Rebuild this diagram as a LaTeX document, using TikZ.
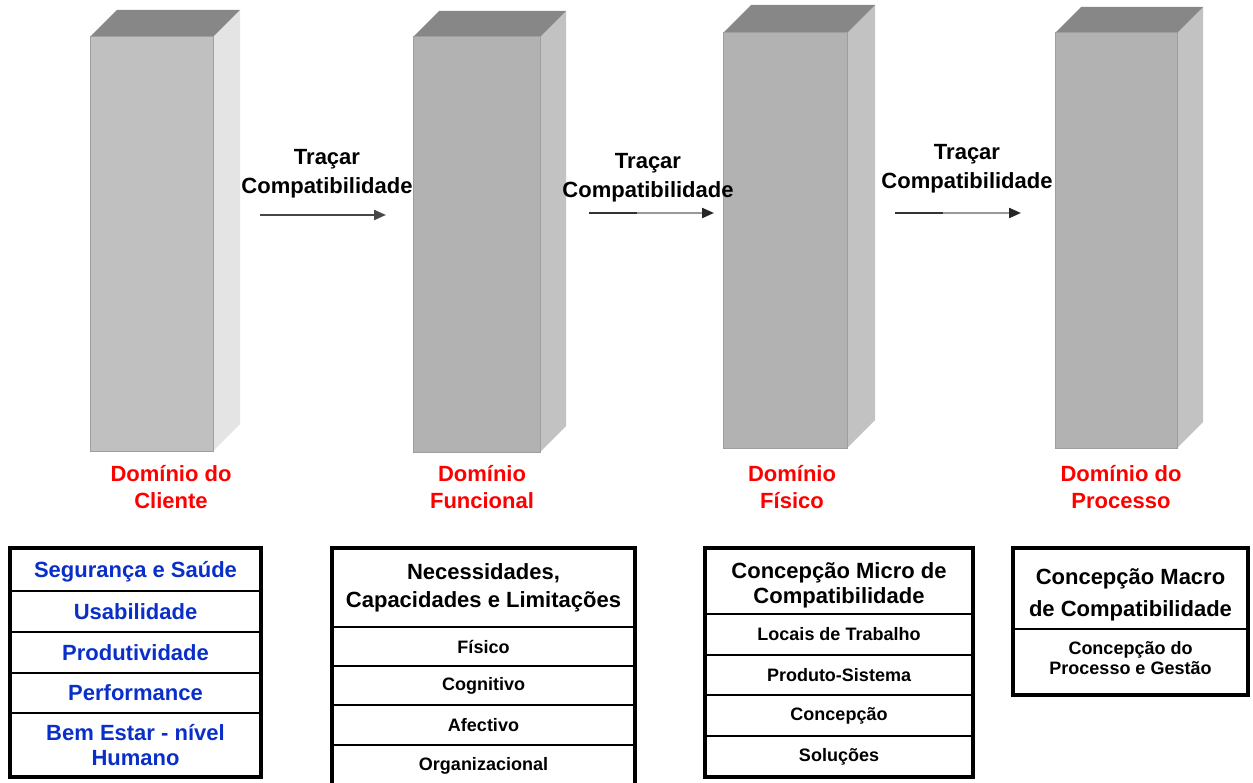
\documentclass[tikz,border=0pt]{standalone}
\usepackage{fontspec}
\setmainfont{Liberation Sans}
\usetikzlibrary{arrows.meta,calc}
\definecolor{faceA}{HTML}{C0C0C0}
\definecolor{sideA}{HTML}{E4E4E4}
\definecolor{faceB}{HTML}{B2B2B2}
\definecolor{sideB}{HTML}{C2C2C2}
\definecolor{topface}{HTML}{878787}
\definecolor{edgegray}{HTML}{9E9E9E}
\definecolor{itemblue}{HTML}{0A2FC8}
\definecolor{domred}{HTML}{FF0000}
\begin{document}
\begin{tikzpicture}[x=1pt,y=-1pt,
  pillar/.style={draw=edgegray, line width=1pt, inner sep=0pt, outer sep=0pt, anchor=north west},
  lab/.style={align=center, font=\fontsize{22}{29}\selectfont\bfseries},
  dom/.style={align=center, text=domred, font=\fontsize{22}{27}\selectfont\bfseries},
  flow/.style={line width=2.2pt, draw=black!72, -{Triangle[length=12pt,width=10pt]}},
  flowlight/.style={line width=2.2pt, draw=black!40, -{Triangle[length=12pt,width=10pt,color=black!85]}},
  cell/.style={draw=black, line width=1.5pt, inner sep=0pt, outer sep=0pt, align=center, anchor=north},
  big/.style={font=\fontsize{22}{25}\selectfont\bfseries},
  small/.style={font=\fontsize{18}{20}\selectfont\bfseries},
  frame/.style={draw=black, line width=3.5pt}
]
\useasboundingbox (0,0) rectangle (1253,783);
\clip (0,0) rectangle (1253,783);

% the four domain pillars: side face, top face, then the front face as a node
\foreach \n/\xl/\xr/\yt/\yb/\d/\fc/\sc in {
    1/90/213/37/451/27/faceA/sideA,
    2/413/540/37/452/26/faceB/sideB,
    3/723/847/33/448/28/faceB/sideB,
    4/1055/1177/33/448/26/faceB/sideB}{
  \fill[\sc] (\xr,\yt) -- (\xr+\d,\yt-\d) -- (\xr+\d,\yb-\d) -- (\xr,\yb) -- cycle;
  \fill[topface] (\xl,\yt) -- (\xl+\d,\yt-\d) -- (\xr+\d,\yt-\d) -- (\xr,\yt) -- cycle;
  \node[pillar, fill=\fc, minimum width={(\xr-\xl)*1pt}, minimum height={(\yb-\yt)*1pt}] (p\n) at (\xl,\yt) {};
}

% arrows between the domains
\coordinate (a1s) at (260,215); \coordinate (a1e) at (386,215);
\coordinate (a2s) at (589,213); \coordinate (a2e) at (714,213);
\coordinate (a3s) at (895,213); \coordinate (a3e) at (1021,213);
\draw[flow] (a1s) -- (a1e);
\draw[flowlight] (a2s) -- (a2e);
\draw[line width=2.2pt, black!80] (a2s) -- ($(a2s)!0.38!(a2e)$);
\draw[flowlight] (a3s) -- (a3e);
\draw[line width=2.2pt, black!80] (a3s) -- ($(a3s)!0.38!(a3e)$);

\node[lab] (t1) at (327,174) {Traçar\\Compatibilidade};
\node[lab] (t2) at (648,178) {Traçar\\Compatibilidade};
\node[lab] (t3) at (967,169) {Traçar\\Compatibilidade};

% domain names
\node[dom] (d1) at (171,487) {Domínio do\\Cliente};
\node[dom] (d2) at (482,487) {Domínio\\Funcional};
\node[dom] (d3) at (792,487) {Domínio\\Físico};
\node[dom] (d4) at (1121,487) {Domínio do\\Processo};

% customer domain table
\begin{scope}[every node/.append style={minimum width=251pt, text=itemblue, big}]
\node[cell, minimum height=43pt] (b11) at (135.5,548) {};
\node[cell, minimum height=41pt] (b12) at (b11.south) {Usabilidade};
\node[cell, minimum height=41pt] (b13) at (b12.south) {Produtividade};
\node[cell, minimum height=40pt] (b14) at (b13.south) {Performance};
\node[cell, minimum height=64pt] (b15) at (b14.south) {Bem Estar - nível\\Humano};
\end{scope}
\node[big, text=itemblue] (b11t) at ($(b11.center)+(0,2.5)$) {Segurança e Saúde};
\draw[frame] (b11.north west) rectangle (b15.south east);

% functional domain table
\begin{scope}[every node/.append style={minimum width=303pt}]
\node[cell, font=\fontsize{22}{28}\selectfont\bfseries, minimum height=79pt] (b21) at (483.5,548) {Necessidades,\\Capacidades e Limitações};
\node[cell, small, minimum height=39pt] (b22) at (b21.south) {Físico};
\node[cell, small, minimum height=39pt] (b23) at (b22.south) {Cognitivo};
\node[cell, small, minimum height=40pt] (b24) at (b23.south) {Afectivo};
\node[cell, small, minimum height=41pt] (b25) at (b24.south) {Organizacional};
\end{scope}
\draw[frame] (b21.north west) rectangle (b25.south east);

% physical domain table
\begin{scope}[every node/.append style={minimum width=268pt}]
\node[cell, minimum height=66pt] (b31) at (839,548) {};
\node[cell, small, minimum height=41pt] (b32) at (b31.south) {Locais de Trabalho};
\node[cell, small, minimum height=40pt] (b33) at (b32.south) {Produto-Sistema};
\node[cell, small, minimum height=41pt] (b34) at (b33.south) {Concepção};
\node[cell, small, minimum height=41pt] (b35) at (b34.south) {Soluções};
\end{scope}
\node[big, align=center] (b31t) at ($(b31.center)+(0,4)$) {Concepção Micro de\\Compatibilidade};
\draw[frame] (b31.north west) rectangle (b35.south east);

% process domain table
\begin{scope}[every node/.append style={minimum width=235pt}]
\node[cell, minimum height=81pt] (b41) at (1130.5,548) {};
\node[cell, minimum height=66pt] (b42) at (b41.south) {};
\end{scope}
\node[align=center, font=\fontsize{22}{32}\selectfont\bfseries] (b41t) at ($(b41.center)+(0,6)$) {Concepção Macro\\de Compatibilidade};
\node[small, align=center] (b42t) at ($(b42.center)+(0,-4)$) {Concepção do\\Processo e Gestão};
\draw[frame] (b41.north west) rectangle (b42.south east);
\end{tikzpicture}
\end{document}
